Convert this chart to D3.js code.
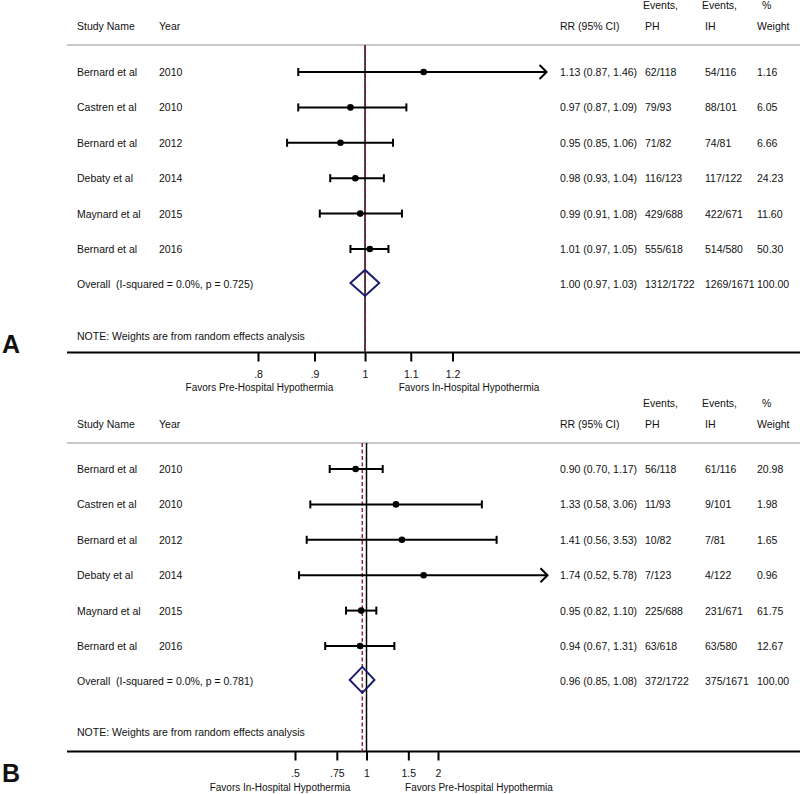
<!DOCTYPE html>
<html><head><meta charset="utf-8">
<script src="https://cdn.jsdelivr.net/npm/d3@7"></script>
<style>
html,body{margin:0;padding:0;background:#fff;}
svg text{font-family:"Liberation Sans",Arial,sans-serif;fill:#111;white-space:pre;}
</style></head>
<body><svg id="chart" width="800" height="794"></svg>
<script>
// ---------- data ----------
const studies = ["Bernard et al","Castren et al","Bernard et al","Debaty et al","Maynard et al","Bernard et al"];
const years = ["2010","2010","2012","2014","2015","2016"];

// Panel A
const rrA = [1.13,0.97,0.95,0.98,0.99,1.01];
const loA = [0.87,0.87,0.85,0.93,0.91,0.97];
const hiA = [1.46,1.09,1.06,1.04,1.08,1.05];
const phA = ["62/118","79/93","71/82","116/123","429/688","555/618"];
const ihA = ["54/116","88/101","74/81","117/122","422/671","514/580"];
const wA  = ["1.16","6.05","6.66","24.23","11.60","50.30"];
const overallA = {rr:1.00, lo:0.97, hi:1.03, ph:"1312/1722", ih:"1269/1671", w:"100.00", label:"Overall  (I-squared = 0.0%, p = 0.725)"};
const ticksA = [0.8,0.9,1,1.1,1.2];
const tickLabelsA = [".8",".9","1","1.1","1.2"];
const favorsA = ["Favors Pre-Hospital Hypothermia","Favors In-Hospital Hypothermia"];
const xMaxA = 1.46;

// Panel B
const rrB = [0.90,1.33,1.41,1.74,0.95,0.94];
const loB = [0.70,0.58,0.56,0.52,0.82,0.67];
const hiB = [1.17,3.06,3.53,5.78,1.10,1.31];
const phB = ["56/118","11/93","10/82","7/123","225/688","63/618"];
const ihB = ["61/116","9/101","7/81","4/122","231/671","63/580"];
const wB  = ["20.98","1.98","1.65","0.96","61.75","12.67"];
const overallB = {rr:0.96, lo:0.85, hi:1.08, ph:"372/1722", ih:"375/1671", w:"100.00", label:"Overall  (I-squared = 0.0%, p = 0.781)"};
const ticksB = [0.5,0.75,1,1.5,2];
const tickLabelsB = [".5",".75","1","1.5","2"];
const favorsB = ["Favors In-Hospital Hypothermia","Favors Pre-Hospital Hypothermia"];
const xMaxB = 5.78;

const note = "NOTE: Weights are from random effects analysis";

// ---------- layout ----------
const panels = [
  {letter:"A", rr:rrA, lo:loA, hi:hiA, ph:phA, ih:ihA, w:wA, ov:overallA, ticks:ticksA, tl:tickLabelsA, fav:favorsA, xMax:xMaxA,
   dom:[0.8,1.2], rng:[258,452.5], favX:[259.5,469],
   head1:9, head2:29.5, sep:45, row0:72, noteY:340, axisY:352.5, tickLabY:378, favY:391, letterY:353},
  {letter:"B", rr:rrB, lo:loB, hi:hiB, ph:phB, ih:ihB, w:wB, ov:overallB, ticks:ticksB, tl:tickLabelsB, fav:favorsB, xMax:xMaxB,
   dom:[0.5,2], rng:[295,438], favX:[280,479],
   head1:407, head2:428, sep:443, row0:469, noteY:736, axisY:751.5, tickLabY:777, favY:791, letterY:782}
];
const step = 35.4;
const col = {name:77, year:159, rr:560, ph:645, ih:705, w:757};
const fs = 10.5;

const svg = d3.select("#chart");
const fmt = d3.format(".2f");

panels.forEach(p => {
  const g = svg.append("g");
  const x = d3.scaleLog().domain(p.dom).range(p.rng);
  const n = p.rr.length;
  const rowY = i => p.row0 + i*step;
  const ovY = rowY(n) - 1.5;

  // headers
  const hdr = [
    {t:"Study Name", x:col.name, y:p.head2},
    {t:"Year", x:col.year, y:p.head2},
    {t:"RR (95% CI)", x:col.rr, y:p.head2},
    {t:"Events,", x:643, y:p.head1},
    {t:"PH", x:col.ph, y:p.head2},
    {t:"Events,", x:702, y:p.head1},
    {t:"IH", x:col.ih, y:p.head2},
    {t:"%", x:762, y:p.head1},
    {t:"Weight", x:col.w, y:p.head2}
  ];
  g.selectAll("text.hdr").data(hdr).join("text").attr("class","hdr")
    .attr("x",d=>d.x).attr("y",d=>d.y).attr("font-size",fs).text(d=>d.t);

  // separator
  g.append("line").attr("x1",67).attr("x2",800).attr("y1",p.sep).attr("y2",p.sep)
    .attr("stroke","#c8c8c8").attr("stroke-width",2);

  // axis line
  g.append("line").attr("x1",67).attr("x2",800).attr("y1",p.axisY).attr("y2",p.axisY)
    .attr("stroke","#000").attr("stroke-width",2);

  // reference line at 1
  g.append("line").attr("x1",x(1)).attr("x2",x(1)).attr("y1",p.sep).attr("y2",p.axisY)
    .attr("stroke","#000").attr("stroke-width",1.5);
  // overall dashed line
  g.append("line").attr("x1",x(p.ov.rr)).attr("x2",x(p.ov.rr)).attr("y1",p.sep).attr("y2",p.axisY)
    .attr("stroke","#8a2a3a").attr("stroke-width",1.5).attr("stroke-dasharray","4,2.5");

  // ticks
  const axis = d3.axisBottom(x).tickValues(p.ticks).tickFormat((d,i)=>p.tl[i]).tickSize(9).tickPadding(0);
  const ag = g.append("g").attr("transform",`translate(0,${p.axisY})`).call(axis);
  ag.select(".domain").remove();
  ag.selectAll(".tick line").attr("stroke","#000").attr("stroke-width",2);
  ag.selectAll(".tick text").attr("y",p.tickLabY-p.axisY).attr("dy",0).attr("font-size",10.5)
    .attr("font-family","Liberation Sans, Arial, sans-serif").attr("fill","#111");

  // favors
  g.selectAll("text.fav").data(p.fav).join("text").attr("class","fav")
    .attr("x",(d,i)=>p.favX[i]).attr("y",p.favY).attr("text-anchor","middle").attr("font-size",10).text(d=>d);

  // rows
  const rows = d3.range(n).map(i => ({i, name:studies[i], year:years[i], rr:p.rr[i], lo:p.lo[i], hi:p.hi[i], ph:p.ph[i], ih:p.ih[i], w:p.w[i]}));
  const rg = g.selectAll("g.row").data(rows).join("g").attr("class","row");
  rg.append("text").attr("x",col.name).attr("y",d=>rowY(d.i)+4).attr("font-size",fs).text(d=>d.name);
  rg.append("text").attr("x",col.year).attr("y",d=>rowY(d.i)+4).attr("font-size",fs).text(d=>d.year);
  rg.append("text").attr("x",col.rr).attr("y",d=>rowY(d.i)+4).attr("font-size",fs)
    .text(d=>`${fmt(d.rr)} (${fmt(d.lo)}, ${fmt(d.hi)})`);
  rg.append("text").attr("x",col.ph).attr("y",d=>rowY(d.i)+4).attr("font-size",fs).text(d=>d.ph);
  rg.append("text").attr("x",col.ih).attr("y",d=>rowY(d.i)+4).attr("font-size",fs).text(d=>d.ih);
  rg.append("text").attr("x",col.w).attr("y",d=>rowY(d.i)+4).attr("font-size",fs).text(d=>d.w);

  // CI lines
  rg.append("line").attr("x1",d=>x(d.lo)).attr("x2",d=>x(Math.min(d.hi,p.xMax)))
    .attr("y1",d=>rowY(d.i)).attr("y2",d=>rowY(d.i)).attr("stroke","#000").attr("stroke-width",2);
  rg.append("line").attr("x1",d=>x(d.lo)).attr("x2",d=>x(d.lo))
    .attr("y1",d=>rowY(d.i)-4).attr("y2",d=>rowY(d.i)+4).attr("stroke","#000").attr("stroke-width",2);
  rg.filter(d=>d.hi < p.xMax).append("line").attr("x1",d=>x(d.hi)).attr("x2",d=>x(d.hi))
    .attr("y1",d=>rowY(d.i)-4).attr("y2",d=>rowY(d.i)+4).attr("stroke","#000").attr("stroke-width",2);
  rg.filter(d=>d.hi >= p.xMax).append("path")
    .attr("d",d=>{const tx=x(p.xMax), y=rowY(d.i); return `M${tx-7},${y-7}L${tx},${y}L${tx-7},${y+7}`;})
    .attr("fill","none").attr("stroke","#000").attr("stroke-width",2);
  rg.append("circle").attr("cx",d=>x(d.rr)).attr("cy",d=>rowY(d.i)).attr("r",3.3).attr("fill","#000");

  // overall row
  const ov = p.ov;
  const ovText = [
    {t:ov.label, x:col.name},
    {t:`${fmt(ov.rr)} (${fmt(ov.lo)}, ${fmt(ov.hi)})`, x:col.rr},
    {t:ov.ph, x:col.ph}, {t:ov.ih, x:col.ih}, {t:ov.w, x:col.w}
  ];
  g.selectAll("text.ov").data(ovText).join("text").attr("class","ov")
    .attr("x",d=>d.x).attr("y",rowY(n)+4).attr("font-size",fs).text(d=>d.t);
  g.append("path")
    .attr("d",`M${x(ov.lo)},${ovY}L${x(ov.rr)},${ovY-13}L${x(ov.hi)},${ovY}L${x(ov.rr)},${ovY+13}Z`)
    .attr("fill","none").attr("stroke","#1c1c70").attr("stroke-width",2);

  // note
  g.append("text").attr("x",col.name).attr("y",p.noteY).attr("font-size",fs).text(note);

  // panel letter
  g.append("text").attr("x",2).attr("y",p.letterY).attr("font-size",25).attr("font-weight","bold").text(p.letter);
});
</script></body></html>
